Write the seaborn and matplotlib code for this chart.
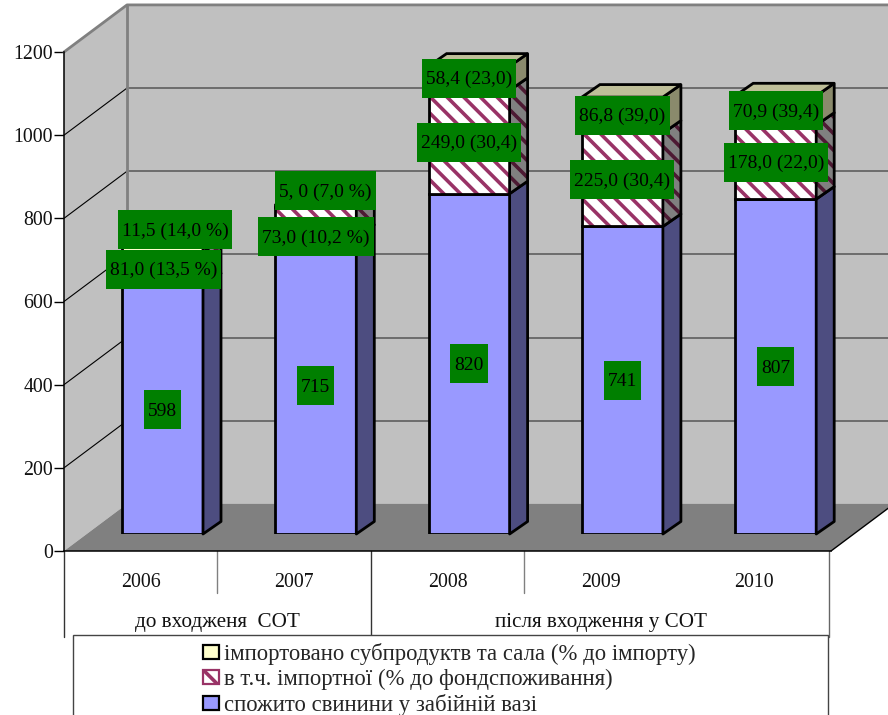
import numpy as np
import matplotlib
matplotlib.use("Agg")
import matplotlib.pyplot as plt
import seaborn as sns
from matplotlib.patches import Polygon, Rectangle, Patch
from matplotlib.transforms import IdentityTransform

years = ["2006", "2007", "2008", "2009", "2010"]
consumed = [598, 715, 820, 741, 807]
imported = [81.0, 73.0, 249.0, 225.0, 178.0]
offal = [11.5, 5.0, 58.4, 86.8, 70.9]
consumed_labels = ["598", "715", "820", "741", "807"]
imported_labels = ["81,0 (13,5 %)", "73,0 (10,2 %)", "249,0 (30,4)", "225,0 (30,4)", "178,0 (22,0)"]
offal_labels = ["11,5 (14,0 %)", "5, 0 (7,0 %)", "58,4 (23,0)", "86,8 (39,0)", "70,9 (39,4)"]
group_labels = ["до входженя  СОТ", "після входження у СОТ"]
legend_labels = ["імпортовано субпродуктв та сала (% до імпорту)",
                 "в т.ч. імпортної (% до фондспоживання)",
                 "спожито свинини у забійній вазі"]
yticks = [0, 200, 400, 600, 800, 1000, 1200]

sns.set_style("white")
FONT = ["Liberation Serif", "DejaVu Serif"]
plt.rcParams["font.family"] = FONT
plt.rcParams["hatch.linewidth"] = 2.6
FS = 14

W, H = 888, 715
fig = plt.figure(figsize=(W / 100, H / 100), dpi=100, facecolor="white")


def px_axes(x0, x1, y_bottom, y_top, z):
    a = fig.add_axes([x0 / W, 1 - y_bottom / H, (x1 - x0) / W, (y_bottom - y_top) / H])
    a.set_zorder(z)
    return a


WALL, FLOOR, GRID = "#C0C0C0", "#808080", "#666666"
BLUE, BLUE_S = "#9999FF", "#4D4D80"
HATCH, HATCH_S, GREY_S = "#993366", "#4D1A33", "#808080"
YEL, YEL_S, YEL_T = "#FFFFCC", "#8A8A6C", "#BFBF99"
GREEN = "#007F00"
HP = "\\\\"

# ---- front frame: axis, walls, floor
ax = px_axes(64, 831, 551, 52, 1)
ax.set_xlim(-0.5, 4.5)
ax.set_ylim(0, 1200)
ax.patch.set_alpha(0)
DX, DY = 63 / 153.4, 47 / 0.415
xl, xr = -0.5, 4.5
kw = dict(clip_on=False)
ax.add_patch(Polygon([(xl + DX, DY), (xr + DX, DY), (xr + DX, 1200 + DY), (xl + DX, 1200 + DY)],
                     fc=WALL, ec="none", zorder=0.5, **kw))
ax.add_patch(Polygon([(xl, 0), (xl + DX, DY), (xl + DX, 1200 + DY), (xl, 1200)],
                     fc=WALL, ec="none", zorder=0.6, **kw))
ax.add_patch(Polygon([(xl, 0), (xr, 0), (xr + DX, DY), (xl + DX, DY)],
                     fc=FLOOR, ec="none", zorder=0.7, **kw))
for t in yticks[1:-1]:
    ax.plot([xl, xl + DX], [t, t + DY], color="black", lw=0.8, zorder=0.8, **kw)
    ax.plot([xl + DX, xr + DX], [t + DY, t + DY], color=GRID, lw=1.3, zorder=0.8, **kw)
ax.plot([xl, xl + DX, xr + DX], [1200, 1200 + DY, 1200 + DY], color=FLOOR, lw=2, zorder=0.9, **kw)
ax.plot([xl + DX, xl + DX], [DY, 1200 + DY], color=FLOOR, lw=2, zorder=0.9, **kw)
ax.plot([xr, xr + DX], [0, DY], color="black", lw=1, zorder=0.9, **kw)

for s in ("top", "right"):
    ax.spines[s].set_visible(False)
for s in ("left", "bottom"):
    ax.spines[s].set_color("black")
    ax.spines[s].set_linewidth(1.1)
ax.set_yticks(yticks)
ax.set_xticks(range(len(years)))
ax.set_xticklabels(years)
ax.tick_params(axis="y", left=True, length=7, width=1, color="black", pad=1, labelsize=FS + 0.3, labelcolor="#111111")
ax.tick_params(axis="x", bottom=False, pad=12, labelsize=FS + 0.3, labelcolor="#111111")

# dividers below the axis
tr = ax.get_xaxis_transform()
low, deep = -42 / 499, -86 / 499
for x, y1, c in [(-0.5, deep, "#333333"), (0.5, low, "#808080"), (1.5, deep, "#333333"),
                 (2.5, low, "#808080"), (4.49, deep, "#666666")]:
    ax.plot([x, x], [0, y1], transform=tr, color=c, lw=1, clip_on=False, zorder=0.9)
ax.text(0.5, -72 / 499, group_labels[0], transform=tr, ha="center", va="center", fontsize=15.2, color="#111111")
ax.text(3.0, -72 / 499, group_labels[1], transform=tr, ha="center", va="center", fontsize=15.2, color="#111111")

# ---- bars (shifted into the depth of the box)
bx = px_axes(85.85, 852.35, 534, 36, 2)
cons, imp, off = map(np.array, (consumed, imported, offal))
base2, base3 = cons, cons + imp
WIDTH = 81 / 153.3
bar = dict(x=years, ax=bx, width=WIDTH, saturation=1)
sns.barplot(y=consumed, color=BLUE, edgecolor="black", linewidth=2, **bar)
sns.barplot(y=imported, bottom=base2, color="white", edgecolor=HATCH, hatch=HP, linewidth=0, **bar)
sns.barplot(y=imported, bottom=base2, color="black", fill=False, edgecolor="black", linewidth=2, **bar)
sns.barplot(y=offal, bottom=base3, color=YEL, edgecolor="black", linewidth=2, **bar)
bx.set_xlim(-0.5, 4.5)
bx.set_ylim(0, 1200)
bx.axis("off")
bx.patch.set_alpha(0)
bdx, bdy = 18 / 153.3, 12.5 / 0.415
hw = WIDTH / 2


def side(i, lo, hi, fc, **k):
    r = i + hw
    bx.add_patch(Polygon([(r, lo), (r + bdx, lo + bdy), (r + bdx, hi + bdy), (r, hi)],
                         fc=fc, ec=k.pop("ec", "black"), lw=k.pop("lw", 2), clip_on=False, joinstyle="round", **k))


for i in range(len(years)):
    side(i, 0, cons[i], BLUE_S)
    side(i, base2[i], base3[i], GREY_S, lw=0, ec=HATCH_S, hatch=HP)
    side(i, base2[i], base3[i], "none")
    top = base3[i] + off[i]
    side(i, base3[i], top, YEL_S)
    bx.add_patch(Polygon([(i - hw, top), (i + hw, top), (i + hw + bdx, top + bdy), (i - hw + bdx, top + bdy)],
                         fc=YEL_T, ec="black", lw=2, clip_on=False))

# ---- value labels
shift_off = [(12.5, 20), (9.5, 15.5), (0, 0), (0, 0), (0, 0)]
shift_imp = [(1, 0), (0, -14.5), (0, 0), (0, 0), (0, 0)]
rend = fig.canvas.get_renderer()


def label(i, lo, val, s, dxy=(0, 0)):
    mid = lo + val / 2
    t = bx.annotate(s, xy=(i, mid), xytext=(dxy[0], dxy[1] - 1.5), textcoords="offset pixels", ha="center",
                    va="center", fontsize=FS, color="black", zorder=10, annotation_clip=False)
    e = t.get_window_extent(rend)
    cx, cy = bx.transData.transform((i, mid))
    cx += dxy[0]
    cy += dxy[1]
    w = e.width + 8
    bx.add_patch(Rectangle((cx - w / 2, cy - 19.5), w, 39, transform=IdentityTransform(), fc=GREEN, ec="none",
                           clip_on=False, zorder=9))


for i in range(len(years)):
    label(i, 0, cons[i], consumed_labels[i])
    label(i, base2[i], imp[i], imported_labels[i], shift_imp[i])
    label(i, base3[i], off[i], offal_labels[i], shift_off[i])

# ---- legend
fig.add_artist(Rectangle((73 / W, -0.02), 755 / W, 1 - 635 / H + 0.02, transform=fig.transFigure,
                         fc="white", ec="#444444", lw=1, zorder=3))
handles = [Patch(fc=YEL, ec="black", lw=1.6),
           Patch(fc="white", ec=HATCH, hatch=HP, lw=1.6),
           Patch(fc=BLUE, ec="black", lw=1.6)]
leg = fig.legend(handles, legend_labels, loc="upper left", bbox_to_anchor=(196 / W, 1 - 636 / H),
                 frameon=False, fontsize=16.4, handlelength=0.7, handleheight=0.6, handletextpad=0.22,
                 labelspacing=0.17, borderpad=0.3, borderaxespad=0)
leg.set_zorder(4)

fig.savefig("out.png", dpi=100, facecolor="white")
